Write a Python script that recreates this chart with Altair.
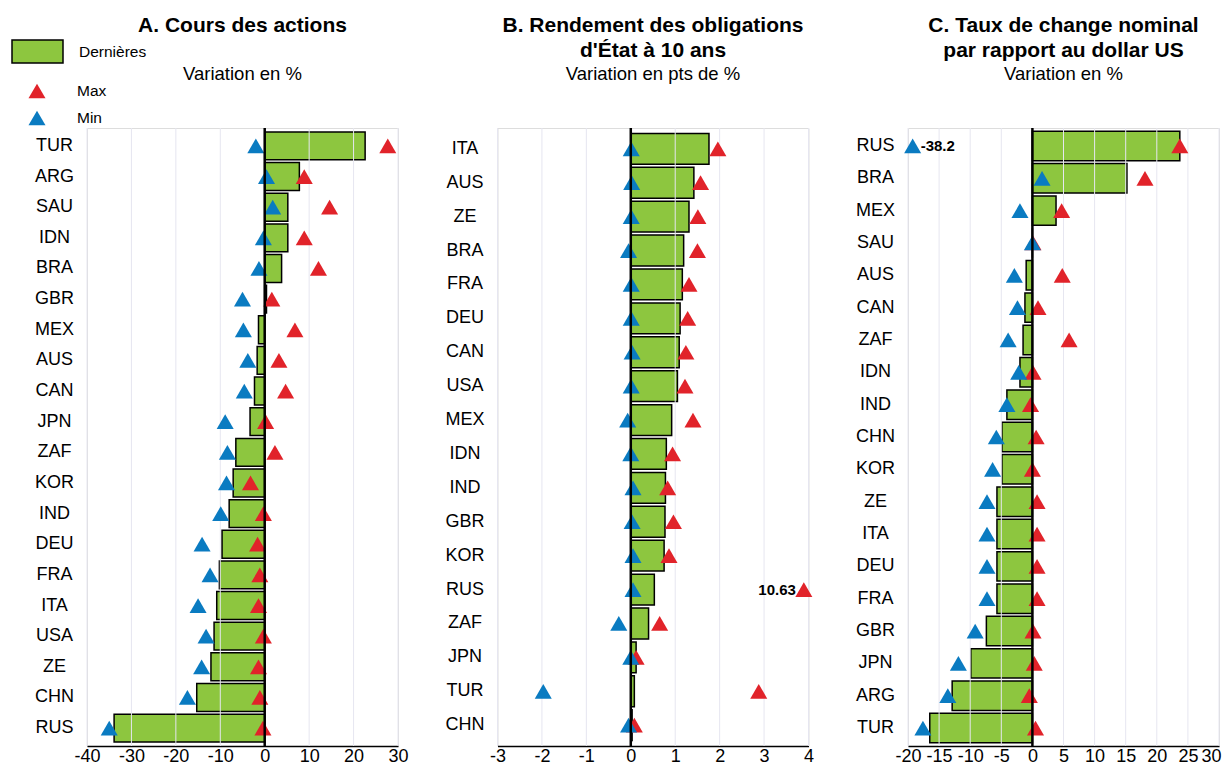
import altair as alt
import pandas as pd

FONT = "Liberation Sans"
GREEN = "#8DC63F"
RED = "#E1232A"
BLUE = "#0A7BC1"
GRID = "#E6E6F0"

# ---------------- Panel A : Cours des actions ----------------
a_countries = ["TUR", "ARG", "SAU", "IDN", "BRA", "GBR", "MEX", "AUS", "CAN", "JPN",
               "ZAF", "KOR", "IND", "DEU", "FRA", "ITA", "USA", "ZE", "CHN", "RUS"]
a_last = [22.6, 7.8, 5.2, 5.2, 3.8, 0.4, -1.4, -1.7, -2.3, -3.3,
          -6.5, -7.1, -8.0, -9.6, -10.2, -10.8, -11.4, -12.1, -15.3, -33.9]
a_max = [27.7, 8.9, 14.6, 8.9, 12.1, 1.6, 6.8, 3.2, 4.7, 0.2,
         2.3, -3.2, -0.3, -1.6, -1.1, -1.4, -0.3, -1.4, -1.1, -0.4]
a_min = [-2.0, 0.4, 1.8, -0.3, -1.3, -5.0, -4.8, -3.8, -4.6, -8.9,
         -8.4, -8.6, -9.9, -14.1, -12.3, -15.0, -13.2, -14.2, -17.4, -35.0]
a_ticks = [-40, -30, -20, -10, 0, 10, 20, 30]

# ---------------- Panel B : Rendement des obligations ----------------
b_countries = ["ITA", "AUS", "ZE", "BRA", "FRA", "DEU", "CAN", "USA", "MEX",
               "IDN", "IND", "GBR", "KOR", "RUS", "ZAF", "JPN", "TUR", "CHN"]
b_last = [1.76, 1.42, 1.31, 1.19, 1.16, 1.11, 1.09, 1.05, 0.92,
          0.80, 0.78, 0.77, 0.75, 0.53, 0.40, 0.12, 0.08, 0.03]
b_max = [1.96, 1.57, 1.51, 1.50, 1.31, 1.28, 1.24, 1.22, 1.40,
         0.94, 0.83, 0.96, 0.86, 10.63, 0.65, 0.12, 2.88, 0.08]
b_min = [0.01, 0.02, 0.01, -0.05, 0.01, 0.01, 0.03, 0.01, -0.07,
         0.00, 0.05, 0.03, 0.05, 0.05, -0.27, 0.00, -1.97, -0.05]
b_ticks = [-3, -2, -1, 0, 1, 2, 3, 4]

# ---------------- Panel C : Taux de change ----------------
c_countries = ["RUS", "BRA", "MEX", "SAU", "AUS", "CAN", "ZAF", "IDN", "IND", "CHN",
               "KOR", "ZE", "ITA", "DEU", "FRA", "GBR", "JPN", "ARG", "TUR"]
c_last = [23.7, 15.2, 3.8, 0.0, -1.0, -1.2, -1.5, -2.0, -4.1, -4.9,
          -4.9, -5.7, -5.7, -5.7, -5.7, -7.4, -9.9, -12.9, -16.5]
c_max = [23.7, 18.1, 4.7, 0.1, 4.8, 0.9, 5.9, 0.1, -0.3, 0.6,
         0.0, 0.75, 0.75, 0.75, 0.75, 0.1, 0.3, -0.5, 0.5]
c_min = [-38.2, 1.55, -2.0, 0.0, -2.9, -2.4, -3.9, -2.2, -4.1, -5.8,
         -6.4, -7.3, -7.3, -7.3, -7.3, -9.2, -11.9, -13.6, -17.6]
c_ticks = [-20, -15, -10, -5, 0, 5, 10, 15, 20, 25, 30]

titles = {
    "A": ["A. Cours des actions", " "],
    "B": ["B. Rendement des obligations", "d'État à 10 ans"],
    "C": ["C. Taux de change nominal", "par rapport au dollar US"],
}
subtitles = {"A": "Variation en %", "B": "Variation en pts de %", "C": "Variation en %"}

W, H = 311, 618
RECT_PATH = "M-1,-0.45H1V0.45H-1Z"


def panel(key, countries, last, mx, mn, ticks, show_legend, pad_outer, pull_last=False):
    lo, hi = ticks[0], ticks[-1]
    inset = 0.015 * (hi - lo)
    bars = pd.DataFrame({"pays": countries, "val": last, "serie": "Dernières"})
    rows = []
    for kind, vals in (("Max", mx), ("Min", mn)):
        for c, v in zip(countries, vals):
            disp = min(max(v, lo + inset), hi - inset)
            clipped = disp != v
            rows.append({"pays": c, "type": kind, "val": v, "disp": disp,
                         "lbl": f"{v:g}" if clipped else "",
                         "side": "hi" if v > hi else ("lo" if v < lo else "")})
    pts = pd.DataFrame(rows)
    grid = pd.DataFrame({"t": ticks})
    zero = pd.DataFrame({"z": [0]})

    xscale = alt.Scale(domain=[lo, hi], nice=False, zero=False)
    axis_kw = dict(values=ticks, labelFontSize=18, labelFont=FONT, labelColor="black",
                   ticks=False, grid=False, domainColor="black", domainWidth=1.5,
                   labelPadding=1, title=None, labelFlush=False,
                   labelExpr="'' + datum.value")
    if pull_last:
        axis_kw["labelOffset"] = {"condition": {"test": f"datum.value == {hi}", "value": -8},
                                  "value": 0}
    xaxis = alt.Axis(**axis_kw)
    yaxis = alt.Axis(labelFontSize=18, labelFont=FONT, labelColor="black", labelAlign="center",
                     labelPadding=33, ticks=False, domain=False, grid=False, title=None)
    yenc = alt.Y("pays:N", sort=countries, axis=yaxis,
                 scale=alt.Scale(paddingInner=0.09, paddingOuter=pad_outer))

    fill_kw = {"scale": alt.Scale(domain=["Dernières"], range=[GREEN])}
    color_kw = {"scale": alt.Scale(domain=["Max", "Min"], range=[RED, BLUE])}
    if show_legend:
        fill_kw["legend"] = alt.Legend(orient="none", legendX=-76, legendY=-103, title=None,
                                       symbolType=RECT_PATH, symbolSize=2601,
                                       symbolStrokeColor="black", symbolStrokeWidth=1.5,
                                       labelFontSize=15.5, labelFont=FONT, labelColor="black",
                                       labelOffset=15, padding=0)
        color_kw["legend"] = alt.Legend(orient="none", legendX=-59, legendY=-46, title=None,
                                        symbolType="triangle-up", symbolSize=290,
                                        symbolStrokeWidth=0, rowPadding=9,
                                        labelFontSize=15.5, labelFont=FONT, labelColor="black",
                                        labelOffset=31, padding=0)

    bar_layer = alt.Chart(bars).mark_bar(stroke="black", strokeWidth=1.5).encode(
        x=alt.X("val:Q", scale=xscale, axis=xaxis),
        x2=alt.datum(0),
        y=yenc,
        fill=alt.Fill("serie:N", **fill_kw),
    )
    grid_layer = alt.Chart(grid).mark_rule(color=GRID, strokeWidth=1).encode(
        x=alt.X("t:Q", scale=xscale, axis=xaxis)
    )
    pt_layer = alt.Chart(pts).mark_point(shape="triangle-up", filled=True, size=290,
                                          opacity=1, strokeWidth=0).encode(
        x=alt.X("disp:Q", scale=xscale, axis=xaxis),
        y=yenc,
        color=alt.Color("type:N", **color_kw),
        order=alt.Order("type:N", sort="ascending"),
    )
    zero_layer = alt.Chart(zero).mark_rule(color="black", strokeWidth=2.5).encode(
        x=alt.X("z:Q", scale=xscale, axis=xaxis)
    )
    txt_hi = alt.Chart(pts).transform_filter(alt.datum.side == "hi").mark_text(
        align="right", dx=-8, fontSize=15, fontWeight="bold", font=FONT, color="black",
        baseline="middle").encode(
        x=alt.X("disp:Q", scale=xscale, axis=xaxis), y=yenc, text="lbl:N")
    txt_lo = alt.Chart(pts).transform_filter(alt.datum.side == "lo").mark_text(
        align="left", dx=8, fontSize=15, fontWeight="bold", font=FONT, color="black",
        baseline="middle").encode(
        x=alt.X("disp:Q", scale=xscale, axis=xaxis), y=yenc, text="lbl:N")

    title = alt.TitleParams(text=titles[key], subtitle=subtitles[key], fontSize=21,
                            font=FONT, fontWeight="bold", color="black", anchor="middle",
                            lineHeight=25, subtitleFontSize=18.5, subtitleFont=FONT,
                            subtitleColor="black", subtitlePadding=4, offset=43)
    return alt.layer(bar_layer, grid_layer, pt_layer, zero_layer, txt_hi, txt_lo).properties(
        width=W, height=H, title=title)


pa = panel("A", a_countries, a_last, a_max, a_min, a_ticks, True, 0.13)
pb = panel("B", b_countries, b_last, b_max, b_min, b_ticks, False, 0.16)
pc = panel("C", c_countries, c_last, c_max, c_min, c_ticks, False, 0.10, pull_last=True)

chart = alt.hconcat(pa, pb, pc, spacing=99.5, bounds="flush").properties(
    padding={"left": 3, "top": 6, "right": 0, "bottom": 0}
).configure_view(stroke=None).configure(font=FONT)

chart.save("out.html", embed_options={"renderer": "svg", "actions": False})
